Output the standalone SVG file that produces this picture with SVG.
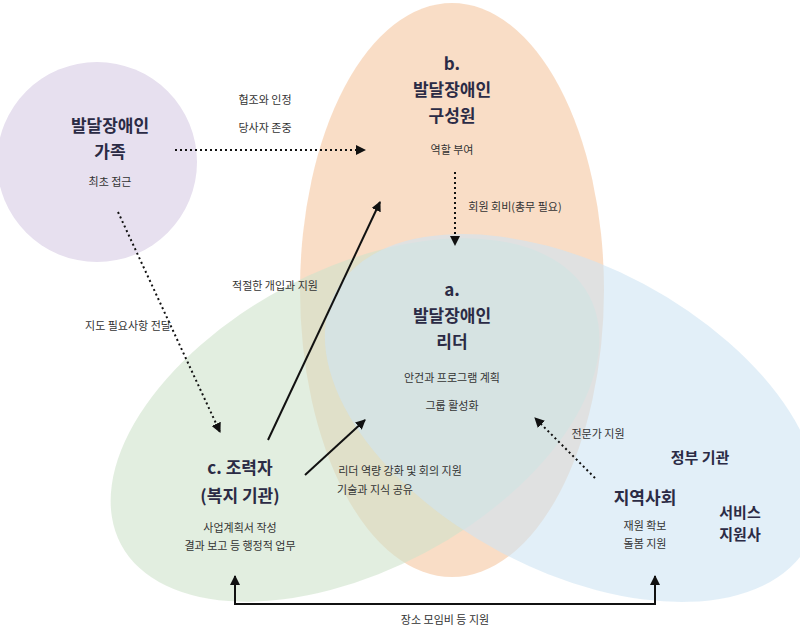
<svg xmlns="http://www.w3.org/2000/svg" width="800" height="628" viewBox="0 0 800 628">
<style>
text{font-family:"Noto Sans CJK KR","Noto Sans",sans-serif;fill:#2b2b45;text-anchor:middle}
.t{font-size:17px;font-weight:bold}
.s{font-size:11px;fill:#333}
.d{stroke:#111;stroke-width:2;stroke-dasharray:2 3;fill:none}
.l{stroke:#111;stroke-width:2;fill:none}
</style>
<defs>
<marker id="a" viewBox="0 0 10 10" refX="9" refY="5" markerWidth="5" markerHeight="5" orient="auto-start-reverse"><path d="M0,0L10,5L0,10z" fill="#111"/></marker>
</defs>
<g id="shapes">
<circle cx="97" cy="162" r="100" fill="#e7e0ef"/>
<ellipse cx="452" cy="290" rx="152" ry="287" fill="#f6cfae" fill-opacity="0.7"/>
<ellipse cx="355" cy="420" rx="265" ry="150" transform="rotate(-28 355 420)" fill="#cfe3cc" fill-opacity="0.6"/>
<ellipse cx="572" cy="418" rx="268" ry="152" transform="rotate(28 572 418)" fill="#cfe4f3" fill-opacity="0.6"/>
</g>
<g id="family"><text class="t" x="110" y="132">발달장애인</text><text class="t" x="110" y="158">가족</text><text class="s" x="110" y="186">최초 접근</text></g>
<g id="b"><text class="t" x="452" y="70">b.</text><text class="t" x="452" y="96">발달장애인</text><text class="t" x="452" y="122">구성원</text><text class="s" x="452" y="154">역할 부여</text></g>
<g id="a-node"><text class="t" x="452" y="296">a.</text><text class="t" x="452" y="322">발달장애인</text><text class="t" x="452" y="348">리더</text><text class="s" x="452" y="382">안건과 프로그램 계획</text><text class="s" x="452" y="410">그룹 활성화</text></g>
<g id="c"><text class="t" x="240" y="474">c. 조력자</text><text class="t" x="240" y="502">(복지 기관)</text><text class="s" x="240" y="532">사업계획서 작성</text><text class="s" x="240" y="550">결과 보고 등 행정적 업무</text></g>
<g id="comm"><text class="t" x="645" y="504">지역사회</text><text class="s" x="645" y="530">재원 확보</text><text class="s" x="645" y="548">돌봄 지원</text></g>
<g id="gov"><text class="t" x="700" y="463" style="font-size:15px">정부 기관</text></g>
<g id="svc"><text class="t" x="740" y="518" style="font-size:15px">서비스</text><text class="t" x="740" y="540" style="font-size:15px">지원사</text></g>
<g id="connectors">
<path class="d" d="M175,150H365" marker-end="url(#a)"/>
<path class="d" d="M455,172V245" marker-end="url(#a)"/>
<path class="d" d="M118,212L220,432" marker-end="url(#a)"/>
<path class="l" d="M268,440L380,202" marker-end="url(#a)"/>
<path class="l" d="M305,475L365,420" marker-end="url(#a)"/>
<path class="d" d="M595,478L535,418" marker-end="url(#a)"/>
<path class="l" d="M235,576V604H655V576" marker-start="url(#a)" marker-end="url(#a)"/>
</g>
<g id="labels">
<text class="s" x="265" y="104">협조와 인정</text><text class="s" x="265" y="132">당사자 존중</text>
<text class="s" x="515" y="211">회원 회비(총무 필요)</text>
<text class="s" x="275" y="290">적절한 개입과 지원</text>
<text class="s" x="128" y="330">지도 필요사항 전달</text>
<text class="s" x="400" y="475">리더 역량 강화 및 회의 지원</text><text class="s" x="375" y="494">기술과 지식 공유</text>
<text class="s" x="598" y="438">전문가 지원</text>
<text class="s" x="445" y="624">장소 모임비 등 지원</text>
</g>
</svg>
